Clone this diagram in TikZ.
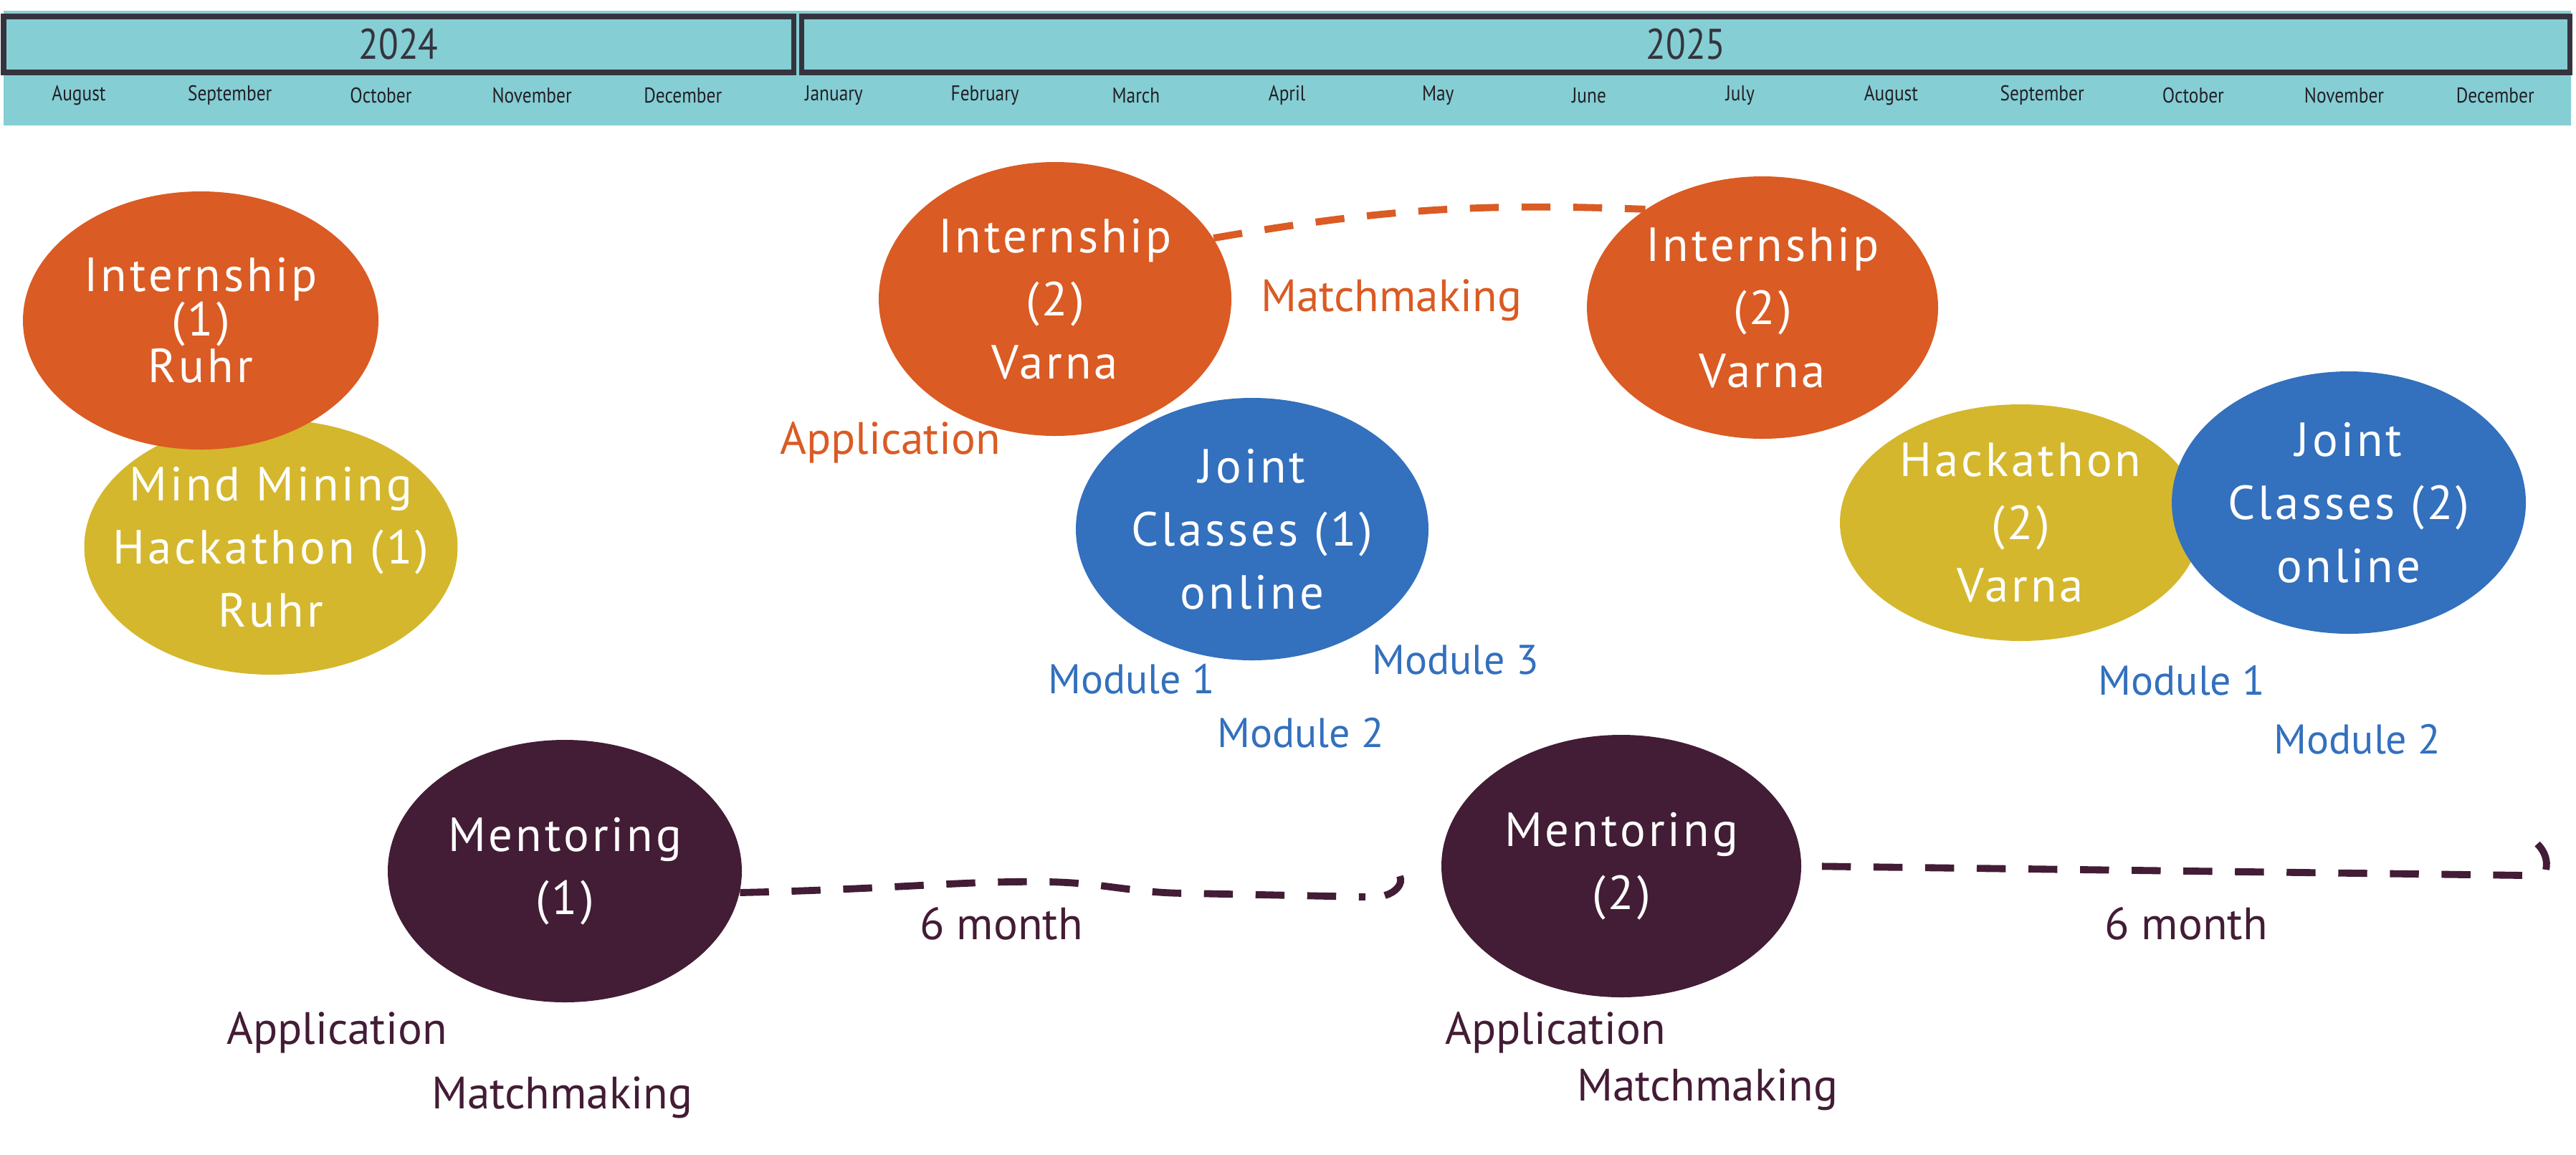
\documentclass[tikz,border=0pt]{standalone}
\usepackage{fontspec}
\setmainfont{PT Sans}
\newfontfamily\headfont[FakeStretch=0.85]{PT Sans}
\newfontfamily\blobfont[LetterSpace=6]{PT Sans}
\usetikzlibrary{shapes.geometric}

\definecolor{bandteal}{HTML}{85CED4}
\definecolor{boxgrey}{HTML}{35343E}
\definecolor{monthink}{HTML}{222026}
\definecolor{intorange}{HTML}{DA5B23}
\definecolor{hackyellow}{HTML}{D4B72C}
\definecolor{classblue}{HTML}{3370BD}
\definecolor{mentpurple}{HTML}{431C35}

\begin{document}
\begin{tikzpicture}[
	blob/.style={ellipse, inner sep=0pt, text=white, align=center,
		font=\blobfont\fontsize{19}{25}\selectfont},
	yearbox/.style={draw=boxgrey, line width=2pt, minimum height=0.78cm,
		inner sep=0pt, text=boxgrey, font=\headfont\fontsize{17}{18}\selectfont},
	month/.style={text=monthink, font=\headfont\fontsize{8.5}{9}\selectfont},
	note/.style={font=\fontsize{18}{22}\selectfont},
	module/.style={text=classblue, font=\fontsize{16.5}{20}\selectfont},
	dashlink/.style={line width=2.8pt, dash pattern=on 11.5pt off 9pt},
	hook/.style={line width=2.8pt},
]

% parameters %{{{2

	\def\monthx{1.10}
	\def\monthgap{2.107}
	\def\monthy{-1.33}

	\useasboundingbox (0,0) rectangle (35.94,-16.10);

% header %{{{2

	\fill[bandteal] (0.05,-0.15) rectangle (35.87,-1.75);

	\node[yearbox, minimum width=11.02cm] (y2024) at (5.56,-0.62) {2024};
	\node[yearbox, minimum width=24.67cm] (y2025) at (23.52,-0.62) {2025};

	\foreach \m [count=\i from 0] in {August,September,October,November,December,
		January,February,March,April,May,June,July,August,September,October,November,December} {
		\node[month] (m\i) at ({\monthx+\monthgap*\i},\monthy) {\m};
	}

% first year %{{{2

	\node[blob, fill=hackyellow, inner xsep=-0.36cm, minimum width=5.16cm, minimum height=3.56cm]
		(hack1) at (3.78,-7.63) {Mind Mining\\Hackathon (1)\\Ruhr};
	\node[blob, fill=intorange, minimum width=4.96cm, minimum height=3.60cm,
		font=\blobfont\fontsize{19}{17.6}\selectfont]
		(int1) at (2.80,-4.47) {Internship\\(1)\\Ruhr};

% internship (2) %{{{2

	\node[blob, fill=intorange, minimum width=4.92cm, minimum height=3.82cm]
		(int2a) at (14.72,-4.17) {Internship\\(2)\\Varna};
	\node[blob, fill=intorange, minimum width=4.90cm, minimum height=3.66cm]
		(int2b) at (24.59,-4.29) {Internship\\(2)\\Varna};

	\draw[dashlink, intorange] (int2a.21) to[bend left=6] (int2b.140);

	\node[note, text=intorange] (applint) at (12.42,-6.17) {Application};
	\node[note, text=intorange] (matchint) at (19.41,-4.19) {Matchmaking};

% joint classes %{{{2

	\node[blob, fill=classblue, minimum width=4.92cm, minimum height=3.66cm]
		(jc1) at (17.47,-7.38) {Joint\\Classes (1)\\online};

	\node[module] (mod1a) at (15.79,-9.47) {Module 1};
	\node[module] (mod2a) at (18.15,-10.22) {Module 2};
	\node[module] (mod3a) at (20.31,-9.21) {Module 3};

	\node[blob, fill=hackyellow, minimum width=5.04cm, minimum height=3.30cm]
		(hack2) at (28.19,-7.29) {Hackathon\\(2)\\Varna};
	\node[blob, fill=classblue, minimum width=4.94cm, minimum height=3.66cm]
		(jc2) at (32.77,-7.01) {Joint\\Classes (2)\\online};

	\node[module] (mod1b) at (30.44,-9.49) {Module 1};
	\node[module] (mod2b) at (32.89,-10.31) {Module 2};

% mentoring %{{{2

	\node[blob, fill=mentpurple, minimum width=4.94cm, minimum height=3.66cm]
		(ment1) at (7.88,-12.15) {Mentoring\\(1)};
	\node[blob, fill=mentpurple, minimum width=5.02cm, minimum height=3.66cm]
		(ment2) at (22.62,-12.08) {Mentoring\\(2)};

	\coordinate (hookAs) at (19.32,-12.49);
	\coordinate (hookA) at (19.53,-12.22);
	\coordinate (hookBs) at (35.52,-12.13);
	\coordinate (hookB) at (35.40,-11.77);

	\draw[dashlink, mentpurple] (ment1.-7)
		.. controls (12.5,-12.40) and (13.5,-12.28) .. (14.6,-12.30)
		.. controls (15.4,-12.31) and (15.8,-12.46) .. (16.6,-12.46)
		-- (19.05,-12.51);
	\draw[hook, mentpurple] (hookAs) .. controls (19.47,-12.45) and (19.58,-12.33) .. (hookA);

	\draw[dashlink, mentpurple, shorten <=8pt] (ment2.east) -- (35.22,-12.21);
	\draw[hook, mentpurple] (hookBs) .. controls (35.55,-12.00) and (35.50,-11.87) .. (hookB);

	\node[note, text=mentpurple] (gapA) at (13.97,-12.88) {6 month};
	\node[note, text=mentpurple] (gapB) at (30.50,-12.88) {6 month};

	\node[note, text=mentpurple] (applA) at (4.70,-14.40) {Application};
	\node[note, text=mentpurple] (matchA) at (7.84,-15.31) {Matchmaking};
	\node[note, text=mentpurple] (applB) at (21.70,-14.40) {Application};
	\node[note, text=mentpurple] (matchB) at (23.82,-15.20) {Matchmaking};

% closing %{{{2

\end{tikzpicture}
\end{document}
